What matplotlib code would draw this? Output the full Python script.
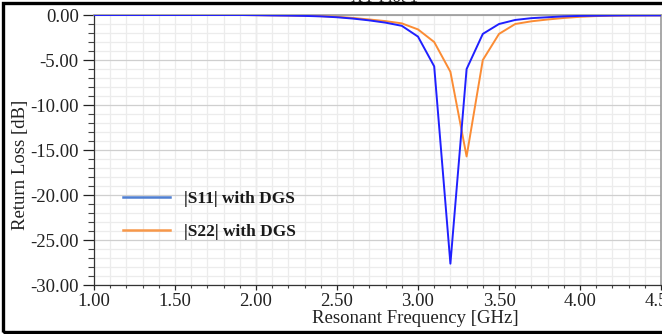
import matplotlib
matplotlib.use("Agg")
import matplotlib.pyplot as plt
from matplotlib.lines import Line2D
from matplotlib.patches import Rectangle
from matplotlib.ticker import MultipleLocator, FormatStrFormatter

# frequency sweep [GHz]
freq = [1.0, 1.1, 1.2, 1.3, 1.4, 1.5, 1.6, 1.7, 1.8, 1.9, 2.0,
        2.1, 2.2, 2.3, 2.4, 2.5, 2.6, 2.7, 2.8, 2.9, 3.0,
        3.1, 3.2, 3.3, 3.4, 3.5, 3.6, 3.7, 3.8, 3.9, 4.0,
        4.1, 4.2, 4.3, 4.4, 4.5]

# |S11| with DGS [dB]
s11 = [0.0, 0.0, 0.0, 0.0, 0.0, 0.0, 0.0, 0.0, 0.0, 0.0, -0.02,
       -0.05, -0.07, -0.1, -0.15, -0.25, -0.4, -0.6, -0.85, -1.2, -2.4,
       -5.7, -27.6, -6.0, -2.1, -1.0, -0.55, -0.35, -0.25, -0.15, -0.1,
       -0.08, -0.06, -0.05, -0.05, -0.05]

# |S22| with DGS [dB]
s22 = [0.0, 0.0, 0.0, 0.0, 0.0, 0.0, 0.0, 0.0, 0.0, 0.0, -0.02,
       -0.04, -0.06, -0.09, -0.13, -0.2, -0.33, -0.5, -0.68, -0.93, -1.6,
       -3.0, -6.3, -15.7, -5.0, -2.1, -1.0, -0.7, -0.5, -0.33, -0.2,
       -0.12, -0.08, -0.06, -0.05, -0.05]

labels = ["|S11| with DGS", "|S22| with DGS"]

W, H = 662, 334
fig = plt.figure(figsize=(W / 100, H / 100), dpi=100)
fig.patch.set_facecolor("white")

# axes box in pixels: x 94..661, y 15..285
ax = fig.add_axes([94 / W, (H - 285.3) / H, (661 - 94) / W, (285.3 - 15) / H])

ax.plot(freq, s22, color="#fb8c34", lw=1.4, zorder=3)
ax.plot(freq, s11, color="#2020ff", lw=1.4, zorder=4)

ax.set_xlim(1.0, 4.5)
ax.set_ylim(-30, 0)

ax.xaxis.set_major_locator(MultipleLocator(0.5))
ax.xaxis.set_minor_locator(MultipleLocator(0.1))
ax.yaxis.set_major_locator(MultipleLocator(5))
ax.yaxis.set_minor_locator(MultipleLocator(1))
ax.xaxis.set_major_formatter(FormatStrFormatter("%.2f"))
ax.yaxis.set_major_formatter(FormatStrFormatter("%.2f"))

# grid: light every 0.1 GHz / 1 dB, darker every 1 GHz / 5 dB
ax.grid(True, axis="x", which="both", color="#ececec", lw=0.9, zorder=0)
ax.grid(True, axis="y", which="minor", color="#ececec", lw=0.9, zorder=0)
ax.grid(True, axis="y", which="major", color="#cfcfcf", lw=0.9, zorder=0)
for xv in [2.0, 3.0, 4.0]:
    ax.axvline(xv, color="#cfcfcf", lw=0.9, zorder=1)

serif = ["Liberation Serif", "DejaVu Serif"]
ax.tick_params(axis="y", which="major", direction="out", length=8, width=0.9,
               pad=3, labelsize=13.5, colors="#222222")
ax.tick_params(axis="y", which="minor", direction="out", length=4, width=0.8,
               colors="#444444")
ax.tick_params(axis="x", which="major", direction="out", length=3.5, width=0.9,
               pad=2, labelsize=13.5, colors="#222222")
ax.tick_params(axis="x", which="minor", direction="out", length=2.5, width=0.8,
               colors="#444444")
for lab in ax.get_xticklabels() + ax.get_yticklabels():
    lab.set_family(serif)
    lab.set_color("#222222")

for side in ["left", "bottom"]:
    ax.spines[side].set_color("#333333")
    ax.spines[side].set_linewidth(0.9)
for side in ["top", "right"]:
    ax.spines[side].set_color("#9a9a9a")
    ax.spines[side].set_linewidth(1.2)

ax.set_xlabel("Resonant Frequency [GHz]", family=serif, fontsize=13.5,
              color="#222222")
ax.xaxis.set_label_coords(0.567, -0.121)
ax.xaxis.label.set_va("center")
ax.set_ylabel("Return Loss [dB]", family=serif, fontsize=13.5, color="#222222")
ax.yaxis.set_label_coords(-0.130, 0.445)
ax.yaxis.label.set_va("center")

handles = [Line2D([], [], color="#4f7fd2", lw=1.8),
           Line2D([], [], color="#f7984a", lw=1.8)]
leg = ax.legend(handles, labels, loc="upper left",
                bbox_to_anchor=(0.051, 0.351), frameon=False,
                prop={"family": serif, "weight": "bold", "size": 12.5},
                handlelength=2.7, handletextpad=0.8, labelspacing=0.99,
                borderaxespad=0, borderpad=0)
for t in leg.get_texts():
    t.set_color("#1a1a1a")

# half-hidden title at the top edge
fig.text(384 / W, 1 - 2.0 / H, "XY Plot 1", family=serif, fontsize=12,
         ha="center", va="baseline", color="#222222")

# thick frame around the screenshot
fig.add_artist(Rectangle((2.5 / W, 2.5 / H), 1.0, 1 - 5 / H,
                         transform=fig.transFigure, fill=False,
                         edgecolor="black", lw=2.4, zorder=10))

fig.savefig("out.png", dpi=100)
